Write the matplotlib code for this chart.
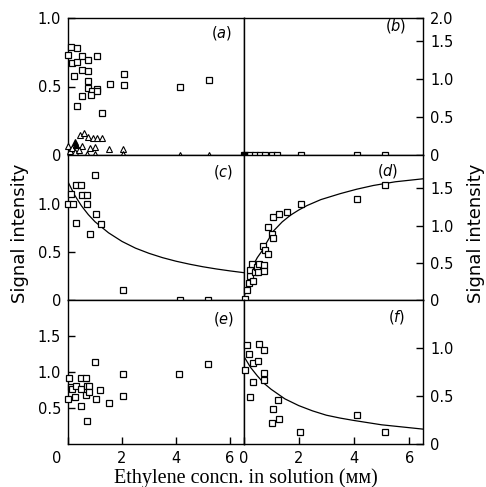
import matplotlib
matplotlib.use("Agg")
from matplotlib import pyplot as plt
from matplotlib import transforms

# (a) open squares + open / filled triangles
a_sq_x = [0.01, 0.11, 0.32, 0.16, 0.32, 0.53, 0.74, 1.06, 0.22, 0.53, 0.74, 0.74, 0.74,
          1.06, 0.88, 0.85, 1.06, 0.53, 0.32, 1.27, 1.57, 2.09, 2.09, 4.16, 5.22]
a_sq_y = [0.73, 0.79, 0.78, 0.67, 0.68, 0.72, 0.69, 0.72, 0.58, 0.62, 0.61, 0.54, 0.49,
          0.48, 0.47, 0.44, 0.47, 0.43, 0.36, 0.31, 0.52, 0.59, 0.51, 0.50, 0.55]
a_tri_x = [0.0, 0.44, 0.59, 0.74, 0.91, 1.09, 1.26, 0.51, 0.81, 1.0, 1.53, 2.02, 2.02,
           0.07, 0.15, 0.26, 0.40, 0.69, 1.0, 4.16, 5.22]
a_tri_y = [0.065, 0.147, 0.157, 0.135, 0.127, 0.127, 0.127, 0.066, 0.054, 0.06, 0.042,
           0.042, 0.005, 0.03, 0.05, 0.024, 0.04, 0.01, 0.005, 0.0, 0.0]
a_fill_x = [0.26, 0.30]
a_fill_y = [0.098, 0.074]

# (b) everything sits on zero
b_x = [0.07, 0.25, 0.43, 0.61, 0.79, 1.04, 1.2, 2.09, 4.1, 5.13]
b_y = [0, 0, 0, 0, 0, 0, 0, 0, 0, 0]
b_fill_x = [0.0]
b_fill_y = [0.0]

# (c)
c_x = [0.01, 0.10, 0.20, 0.30, 0.48, 0.51, 0.69, 0.72, 1.00, 1.03, 0.30, 1.22, 0.80,
       2.05, 4.15, 5.17]
c_y = [1.00, 1.10, 1.00, 1.20, 1.20, 1.09, 1.09, 1.00, 1.30, 0.90, 0.80, 0.79, 0.69,
       0.10, 0.0, 0.0]
c_curve_x = [0, 0.25, 0.5, 0.75, 1.0, 1.5, 2.0, 2.5, 3.0, 3.5, 4.0, 4.5, 5.0, 5.5, 6.0, 6.5]
c_curve_y = [1.23, 1.09, 0.98, 0.89, 0.815, 0.70, 0.61, 0.54, 0.486, 0.441, 0.404, 0.373,
             0.346, 0.323, 0.303, 0.285]

# (d)
d_x = [0.05, 0.13, 0.20, 0.23, 0.25, 0.31, 0.34, 0.41, 0.49, 0.53, 0.57, 0.73, 0.73,
       0.71, 0.77, 0.89, 0.89, 1.05, 1.07, 1.06, 1.28, 1.58, 2.08, 4.10, 5.13]
d_y = [0.01, 0.14, 0.23, 0.32, 0.40, 0.49, 0.26, 0.37, 0.44, 0.37, 0.48, 0.47, 0.39,
       0.73, 0.67, 0.62, 0.98, 0.89, 0.83, 1.11, 1.16, 1.19, 1.29, 1.36, 1.54]
d_curve_x = [0, 0.1, 0.2, 0.37, 0.5, 0.67, 0.85, 1.09, 1.4, 1.7, 2.0, 2.3, 2.8, 3.5,
             4.1, 4.7, 5.5, 6.5]
d_curve_y = [0, 0.16, 0.30, 0.48, 0.57, 0.66, 0.78, 0.93, 1.05, 1.14, 1.21, 1.27, 1.35,
             1.43, 1.49, 1.54, 1.59, 1.63]

# (e)
e_x = [0.0, 0.05, 0.11, 0.16, 0.30, 0.27, 0.48, 0.48, 0.48, 0.67, 0.69, 0.67, 0.79,
       0.79, 0.72, 1.0, 1.03, 1.19, 1.51, 2.02, 2.02, 4.12, 5.17]
e_y = [0.62, 0.92, 0.79, 0.76, 0.80, 0.65, 0.76, 0.53, 0.92, 0.92, 0.80, 0.68, 0.81,
       0.72, 0.32, 1.14, 0.62, 0.75, 0.57, 0.97, 0.67, 0.97, 1.11]

# (f)
f_x = [0.04, 0.13, 0.19, 0.23, 0.34, 0.35, 0.53, 0.55, 0.73, 0.73, 0.76, 1.06, 1.04,
       1.25, 1.27, 2.06, 4.1, 5.13]
f_y = [0.77, 1.03, 0.94, 0.49, 0.84, 0.65, 0.86, 1.04, 0.98, 0.74, 0.67, 0.36, 0.22,
       0.46, 0.26, 0.12, 0.30, 0.12]
f_curve_x = [0, 0.25, 0.5, 0.75, 1.0, 1.5, 2.0, 2.5, 3.0, 3.5, 4.0, 5.0, 6.0, 6.5]
f_curve_y = [0.92, 0.80, 0.71, 0.63, 0.57, 0.47, 0.40, 0.345, 0.30, 0.27, 0.245, 0.20,
             0.17, 0.155]

x_ticks = [0, 2, 4, 6]

W, H = 486, 487
COL = [68, 243.5, 423]      # pixel edges of the two columns
ROW = [18, 155, 300, 444]   # pixel edges of the three rows


def add_panel(fig, col, row):
    left = COL[col] / W
    width = (COL[col + 1] - COL[col]) / W
    bottom = 1 - ROW[row + 1] / H
    height = (ROW[row + 1] - ROW[row]) / H
    return fig.add_axes([left, bottom, width, height])


def style_panel(ax, side, ylim, yticks, ylabels, bottom_row, tag, tag_pos):
    ax.set_xlim(0, 6.5)
    ax.set_ylim(*ylim)
    for sp in ax.spines.values():
        sp.set_linewidth(1.0)
    if side == "right":
        ax.yaxis.tick_right()
    ax.set_yticks(yticks)
    ax.set_yticklabels(ylabels)
    ax.tick_params(axis="y", direction="in", length=5, width=1.0, pad=5, labelsize=10.5)
    if bottom_row:
        ax.set_xticks(x_ticks)
        ax.set_xticklabels([str(t) for t in x_ticks])
        ax.tick_params(axis="x", direction="in", length=5, width=1.0, pad=5, labelsize=10.5)
    else:
        ax.set_xticks([])
    ax.text(tag_pos[0], tag_pos[1], "($\\mathit{%s}$)" % tag, transform=ax.transAxes,
            ha="center", va="center", fontsize=10.5)


def squares(ax, x, y, filled=False):
    ax.plot(x, y, "s", ms=5, mfc="black" if filled else "white", mec="black",
            mew=0.9, clip_on=False, zorder=3)


fig = plt.figure(figsize=(W / 100, H / 100), dpi=100)

ax_a = add_panel(fig, 0, 0)
style_panel(ax_a, "left", (0, 1.0), [0, 0.5, 1.0], ["0", "0.5", "1.0"], False, "a", (0.877, 0.89))
squares(ax_a, a_sq_x, a_sq_y)
ax_a.plot(a_tri_x, a_tri_y, "^", ms=4.8, mfc="white", mec="black", mew=0.8, clip_on=False, zorder=3)
ax_a.plot(a_fill_x, a_fill_y, "^", ms=4.8, mfc="black", mec="black", mew=0.8, clip_on=False, zorder=3)

ax_b = add_panel(fig, 1, 0)
style_panel(ax_b, "right", (0, 1.8), [0, 0.5, 1.0, 1.5, 1.8], ["0", "0.5", "1.0", "1.5", "2.0"],
            False, "b", (0.85, 0.94))
squares(ax_b, b_x, b_y)
squares(ax_b, b_fill_x, b_fill_y, filled=True)

ax_c = add_panel(fig, 0, 1)
style_panel(ax_c, "left", (0, 1.51), [0, 0.5, 1.0], ["0", "0.5", "1.0"], False, "c", (0.883, 0.883))
squares(ax_c, c_x, c_y)
ax_c.plot(c_curve_x, c_curve_y, color="black", lw=0.9)

ax_d = add_panel(fig, 1, 1)
style_panel(ax_d, "right", (0, 1.95), [0, 0.5, 1.0, 1.5], ["0", "0.5", "1.0", "1.5"],
            False, "d", (0.805, 0.89))
squares(ax_d, d_x, d_y)
ax_d.plot(d_curve_x, d_curve_y, color="black", lw=0.9)

ax_e = add_panel(fig, 0, 2)
style_panel(ax_e, "left", (0, 2.0), [0.5, 1.0, 1.5], ["0.5", "1.0", "1.5"], True, "e", (0.889, 0.868))
squares(ax_e, e_x, e_y)
# the corner "0" sits left of its tick in the original
lab0 = ax_e.get_xticklabels()[0]
lab0.set_transform(lab0.get_transform() + transforms.ScaledTranslation(-0.11, 0, fig.dpi_scale_trans))

ax_f = add_panel(fig, 1, 2)
style_panel(ax_f, "right", (0, 1.5), [0, 0.5, 1.0], ["0", "0.5", "1.0"], True, "f", (0.855, 0.88))
squares(ax_f, f_x, f_y)
ax_f.plot(f_curve_x, f_curve_y, color="black", lw=0.9)

fig.text(20 / W, 1 - 233 / H, "Signal intensity", rotation=90, ha="center", va="center", fontsize=13)
fig.text(476 / W, 1 - 233 / H, "Signal intensity", rotation=90, ha="center", va="center", fontsize=13)
fig.text(246 / W, 1 - 478 / H, "Ethylene concn. in solution (ᴍᴍ)", ha="center", va="center",
         fontsize=14.5, family=["Liberation Serif", "DejaVu Serif"])

fig.savefig("out.png", dpi=100)
